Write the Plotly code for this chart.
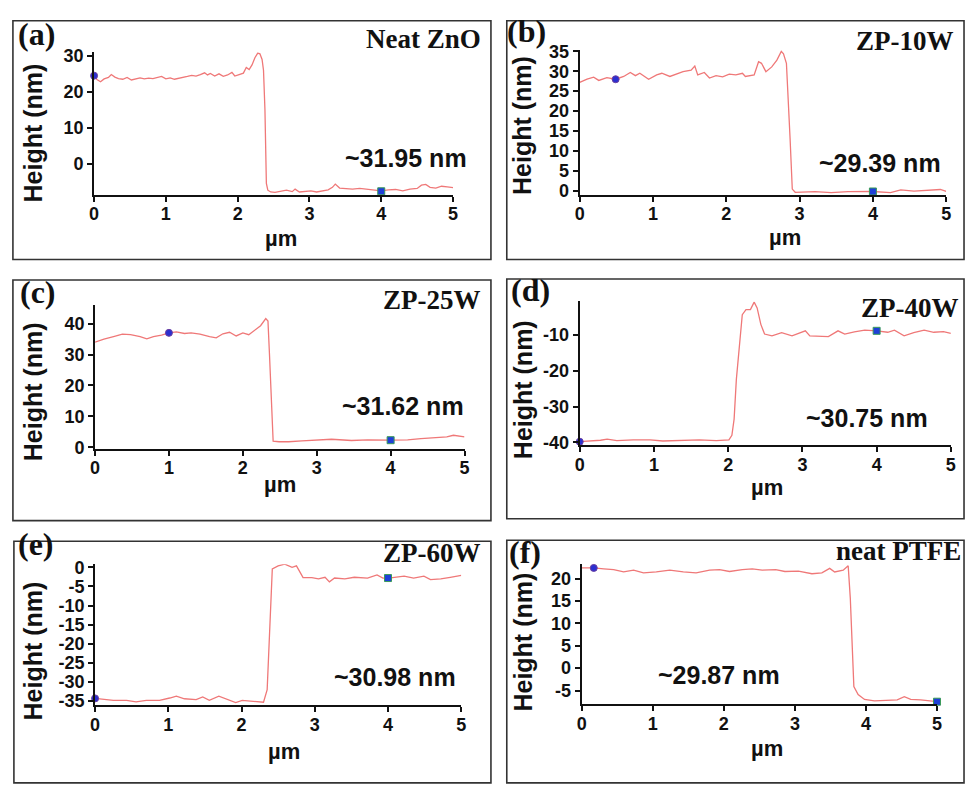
import math
import plotly.graph_objects as go

W, H = 971, 785

# ---------------- height profiles (x in µm, height in nm) ----------------
dist_a = [0.00, 0.04, 0.09, 0.14, 0.20, 0.24, 0.29, 0.34, 0.40, 0.46, 0.52, 0.58, 0.64, 0.70,
          0.76, 0.82, 0.88, 0.94, 1.00, 1.06, 1.12, 1.18, 1.24, 1.30, 1.36, 1.42, 1.48, 1.54,
          1.58, 1.62, 1.68, 1.74, 1.80, 1.86, 1.92, 1.96, 2.02, 2.08, 2.12, 2.16, 2.20, 2.24,
          2.28, 2.31, 2.34, 2.36, 2.38, 2.40, 2.42, 2.46, 2.52, 2.60, 2.68, 2.76, 2.80, 2.86,
          2.94, 3.02, 3.10, 3.18, 3.26, 3.32, 3.36, 3.42, 3.50, 3.60, 3.70, 3.80, 3.90, 4.00,
          4.10, 4.20, 4.30, 4.40, 4.50, 4.56, 4.62, 4.68, 4.76, 4.84, 4.92, 5.00]
height_a = [24.5, 23.4, 22.8, 23.6, 24.0, 24.8, 24.1, 23.7, 23.5, 24.0, 23.3, 23.6, 23.9, 23.6,
            23.8, 23.7, 24.1, 24.3, 23.6, 23.9, 23.5, 23.7, 24.1, 24.3, 24.6, 24.4, 24.8, 25.3,
            24.7, 25.1, 24.4, 25.0, 24.3, 24.7, 25.4, 24.4, 24.8, 25.2, 26.8, 26.2, 27.5, 29.5,
            30.8, 30.6, 29.0, 26.0, 15.0, -5.5, -7.4, -7.9, -8.0, -7.7, -7.4, -7.8, -7.1, -7.9,
            -7.8, -7.6, -7.9, -7.5, -7.3, -6.6, -5.7, -6.8, -7.0, -7.1, -6.9, -7.2, -7.4, -7.6,
            -7.3, -7.2, -7.6, -7.1, -6.9, -6.0, -5.8, -6.6, -6.8, -6.3, -6.5, -6.7]

dist_b = [0.00, 0.10, 0.19, 0.26, 0.37, 0.49, 0.60, 0.69, 0.76, 0.82, 0.94, 1.05, 1.12, 1.23,
          1.41, 1.52, 1.57, 1.61, 1.70, 1.77, 1.86, 1.95, 2.04, 2.13, 2.22, 2.26, 2.38, 2.44,
          2.48, 2.54, 2.62, 2.69, 2.75, 2.78, 2.82, 2.84, 2.87, 2.90, 2.94, 3.21, 3.43, 3.66,
          4.00, 4.24, 4.38, 4.56, 4.74, 4.92, 5.00]
height_b = [27.2, 28.0, 28.5, 27.7, 28.4, 28.0, 28.7, 29.7, 28.9, 29.5, 28.0, 29.1, 29.5, 28.7,
            29.9, 30.3, 31.3, 29.1, 29.7, 28.3, 28.9, 28.6, 29.3, 29.1, 29.5, 28.7, 29.1, 32.4,
            32.0, 29.9, 31.1, 32.8, 35.0, 34.4, 32.0, 25.4, 13.1, 0.4, -0.4, -0.25, -0.5, -0.25,
            -0.2, -0.5, 0.2, -0.1, 0.15, 0.3, -0.2]

dist_c = [0.00, 0.12, 0.25, 0.37, 0.48, 0.61, 0.70, 0.79, 0.90, 1.00, 1.10, 1.21, 1.30, 1.42,
          1.55, 1.64, 1.73, 1.82, 1.91, 2.00, 2.08, 2.17, 2.24, 2.31, 2.34, 2.36, 2.39, 2.41,
          2.49, 2.62, 2.80, 3.02, 3.20, 3.47, 3.69, 4.00, 4.23, 4.41, 4.58, 4.76, 4.85, 5.00]
height_c = [34.0, 35.0, 35.8, 36.6, 36.4, 35.8, 35.1, 35.8, 36.3, 37.0, 37.3, 36.8, 37.0, 36.6,
            35.8, 35.4, 36.7, 37.2, 36.0, 37.0, 36.4, 37.9, 39.3, 41.6, 40.8, 30.3, 12.3, 2.0,
            1.8, 1.8, 2.1, 2.3, 2.6, 2.2, 2.4, 2.3, 2.4, 2.8, 3.2, 3.4, 3.9, 3.4]

dist_d = [0.00, 0.15, 0.28, 0.37, 0.50, 0.72, 0.95, 1.12, 1.39, 1.61, 1.84, 2.01, 2.05, 2.08,
          2.11, 2.15, 2.19, 2.24, 2.30, 2.35, 2.39, 2.44, 2.49, 2.59, 2.72, 2.86, 2.95, 3.04,
          3.10, 3.21, 3.35, 3.48, 3.57, 3.70, 3.84, 4.00, 4.15, 4.24, 4.37, 4.50, 4.64, 4.77,
          4.90, 5.00]
height_d = [-39.8, -39.6, -39.4, -39.1, -39.5, -39.3, -39.3, -39.6, -39.4, -39.3, -39.5, -39.3,
            -38.0, -33.5, -22.5, -12.5, -4.4, -3.0, -3.0, -0.9, -2.5, -7.1, -9.8, -10.3, -9.4,
            -10.3, -9.6, -8.9, -10.3, -10.3, -10.5, -8.9, -9.8, -9.2, -8.7, -8.9, -9.3, -8.7,
            -10.3, -9.4, -8.7, -9.3, -9.1, -9.6]

dist_e = [0.00, 0.11, 0.25, 0.43, 0.56, 0.70, 0.88, 1.02, 1.11, 1.22, 1.38, 1.47, 1.56, 1.69,
          1.78, 1.92, 2.01, 2.19, 2.30, 2.35, 2.37, 2.40, 2.42, 2.50, 2.59, 2.69, 2.75, 2.80,
          2.84, 2.96, 3.05, 3.14, 3.20, 3.27, 3.41, 3.54, 3.72, 3.85, 3.93, 4.01, 4.13, 4.22,
          4.35, 4.49, 4.58, 4.72, 4.85, 5.00]
height_e = [-34.3, -34.6, -34.8, -34.8, -35.2, -34.8, -34.8, -34.2, -33.7, -34.4, -34.6, -33.9,
            -34.8, -33.7, -34.4, -35.4, -34.8, -35.0, -35.3, -32.0, -23.5, -6.4, -0.4, 0.4,
            0.85, 0.0, 0.4, -1.3, -2.7, -2.7, -3.0, -2.6, -3.8, -2.8, -3.0, -2.6, -2.8, -2.0,
            -2.8, -2.8, -2.6, -2.3, -2.8, -2.3, -3.2, -3.0, -2.6, -2.1]

dist_f = [0.00, 0.17, 0.31, 0.45, 0.59, 0.73, 0.87, 1.05, 1.24, 1.43, 1.61, 1.80, 1.94, 2.08,
          2.26, 2.40, 2.54, 2.73, 2.86, 3.05, 3.24, 3.38, 3.49, 3.56, 3.68, 3.75, 3.78, 3.80,
          3.83, 3.89, 3.98, 4.12, 4.30, 4.44, 4.54, 4.63, 4.77, 4.91, 5.00]
height_f = [22.4, 22.4, 22.2, 22.0, 21.5, 21.9, 21.3, 21.5, 21.9, 21.5, 21.3, 21.9, 22.0, 21.6,
            22.0, 22.2, 21.9, 22.0, 21.6, 21.7, 21.1, 21.3, 22.3, 21.5, 21.9, 22.9, 15.6, 6.2,
            -4.1, -5.9, -7.0, -7.3, -7.1, -7.1, -6.4, -7.0, -7.1, -7.3, -7.5]

# cursor pairs (upper cursor, lower cursor)
cursor_a_x, cursor_a_y = [0.00, 4.00], [24.5, -7.7]
cursor_b_x, cursor_b_y = [0.49, 4.00], [28.0, -0.2]
cursor_c_x, cursor_c_y = [1.00, 4.00], [37.0, 2.3]
cursor_d_x, cursor_d_y = [0.00, 4.00], [-39.8, -8.9]
cursor_e_x, cursor_e_y = [0.00, 4.00], [-34.3, -2.8]
cursor_f_x, cursor_f_y = [0.17, 5.00], [22.4, -7.5]

panel_tags = ["(a)", "(b)", "(c)", "(d)", "(e)", "(f)"]
sample_names = ["Neat ZnO", "ZP-10W", "ZP-25W", "ZP-40W", "ZP-60W", "neat PTFE"]
step_heights = [31.95, 29.39, 31.62, 30.75, 30.98, 29.87]
x_ticks = [0, 1, 2, 3, 4, 5]

profiles = [
    (dist_a, height_a, cursor_a_x, cursor_a_y),
    (dist_b, height_b, cursor_b_x, cursor_b_y),
    (dist_c, height_c, cursor_c_x, cursor_c_y),
    (dist_d, height_d, cursor_d_x, cursor_d_y),
    (dist_e, height_e, cursor_e_x, cursor_e_y),
    (dist_f, height_f, cursor_f_x, cursor_f_y),
]

# ---------------- layout geometry (pixels) ----------------
# plot area: left, right, bottom, top ; y range ; y tick step
geometry = [
    dict(l=90.0, r=452.7, b=191.0, t=45.3, yr=[-8.7, 31.0], dt=10),
    dict(l=580.7, r=951.0, b=191.0, t=42.7, yr=[-1.05, 35.4], dt=5),
    dict(l=91.0, r=464.3, b=450.3, t=303.6, yr=[-0.4, 46.0], dt=10),
    dict(l=580.7, r=955.7, b=446.6, t=299.9, yr=[-40.7, -0.7], dt=10),
    dict(l=91.0, r=461.0, b=712.7, t=568.6, yr=[-36.1, 0.8], dt=5),
    dict(l=582.7, r=941.7, b=711.8, t=568.2, yr=[-8.1, 23.3], dt=5),
]
frames = [(8, 13, 491, 257), (507, 13, 969, 257), (8, 278, 491, 524),
          (507, 277, 969, 522), (9, 545, 491, 792), (507, 544, 969, 792)]
# label centres: tag, name (right edge, y), step text, y title, x title
label_pos = [
    dict(tag=(32, 27), name=(483, 32), step=(405, 153), ytitle=(28, 127.5), xtitle=(279, 236)),
    dict(tag=(527, 23), name=(961, 34), step=(884, 158), ytitle=(523, 120), xtitle=(788, 235)),
    dict(tag=(33, 290), name=(483, 298), step=(402, 407), ytitle=(28, 392), xtitle=(278, 487)),
    dict(tag=(531, 288), name=(966, 307), step=(871, 419), ytitle=(523, 390), xtitle=(770, 490)),
    dict(tag=(31, 548), name=(483, 557), step=(394, 684), ytitle=(28, 657), xtitle=(282, 760)),
    dict(tag=(525, 556), name=(968, 555), step=(721, 682), ytitle=(523, 648), xtitle=(770, 757)),
]

SERIF = "Liberation Serif, Times New Roman, serif"
SANS = "Liberation Sans, Arial, sans-serif"
LINE = "#ef7878"


def px(x):
    return x / W


def py(y):
    return 1 - y / H


def y_tick_values(lo, hi, step):
    v = math.ceil(lo / step) * step
    out = []
    while v <= hi + 1e-9:
        out.append(int(v))
        v += step
    return out


fig = go.Figure()
layout = dict(
    width=W, height=H, margin=dict(l=0, r=0, t=0, b=0),
    paper_bgcolor="white", plot_bgcolor="white", showlegend=False,
)
annotations = []
shapes = []

for i, (g, (xs, ys, cx, cy)) in enumerate(zip(geometry, profiles)):
    n = "" if i == 0 else str(i + 1)
    xa, ya = "x" + n, "y" + n
    fig.add_trace(go.Scatter(x=xs, y=ys, xaxis=xa, yaxis=ya, mode="lines",
                             line=dict(color=LINE, width=1.3), hoverinfo="skip"))
    fig.add_trace(go.Scatter(x=cx[:1], y=cy[:1], xaxis=xa, yaxis=ya, mode="markers",
                             marker=dict(symbol="circle", size=7, color="#2b2fd0",
                                         line=dict(color="#6b3fa0", width=1)),
                             cliponaxis=False))
    fig.add_trace(go.Scatter(x=cx[1:], y=cy[1:], xaxis=xa, yaxis=ya, mode="markers",
                             marker=dict(symbol="square", size=7, color="#1f3fd8",
                                         line=dict(color="#3a9a5a", width=1)),
                             cliponaxis=False))
    axis_common = dict(showgrid=False, zeroline=False, showline=True, linecolor="#111",
                       linewidth=2, ticks="outside", ticklen=5, tickwidth=2, tickcolor="#111",
                       tickfont=dict(family=SANS, size=18, color="#111", weight="bold"))
    yt = y_tick_values(g["yr"][0], g["yr"][1], g["dt"])
    layout["xaxis" + n] = dict(domain=[px(g["l"]), px(g["r"])], range=[0, 5], anchor=ya,
                               tickmode="array", tickvals=x_ticks,
                               ticktext=[str(v) for v in x_ticks],
                               ticklabelstandoff=-3, **axis_common)
    layout["yaxis" + n] = dict(domain=[py(g["b"]), py(g["t"])], range=g["yr"], anchor=xa,
                               tickmode="array", tickvals=yt,
                               ticktext=[str(v) for v in yt], **axis_common)

    fl, ft, fr, fb = frames[i]
    shapes.append(dict(type="rect", xref="paper", yref="paper", x0=px(fl), x1=px(fr),
                       y0=py(fb), y1=py(ft), line=dict(color="#333", width=1.6)))

    lp = label_pos[i]
    annotations += [
        dict(text=panel_tags[i], x=px(lp["tag"][0]), y=py(lp["tag"][1]), xanchor="center",
             yanchor="middle", font=dict(family=SERIF, size=32, color="#111", weight="bold")),
        dict(text=sample_names[i], x=px(lp["name"][0]), y=py(lp["name"][1]), xanchor="right",
             yanchor="middle", font=dict(family=SERIF, size=27, color="#111", weight="bold")),
        dict(text=f"~{step_heights[i]:.2f} nm", x=px(lp["step"][0]), y=py(lp["step"][1]),
             xanchor="center", yanchor="middle",
             font=dict(family=SANS, size=25, color="#111", weight="bold")),
        dict(text="Height (nm)", x=px(lp["ytitle"][0]), y=py(lp["ytitle"][1]), textangle=-90,
             xanchor="center", yanchor="middle",
             font=dict(family=SANS, size=25, color="#111", weight="bold")),
        dict(text="µm", x=px(lp["xtitle"][0]), y=py(lp["xtitle"][1]), xanchor="center",
             yanchor="middle", font=dict(family=SANS, size=22, color="#111", weight="bold")),
    ]

for a in annotations:
    a.update(xref="paper", yref="paper", showarrow=False)

layout["annotations"] = annotations
layout["shapes"] = shapes
fig.update_layout(**layout)
fig.write_html("out.html")
